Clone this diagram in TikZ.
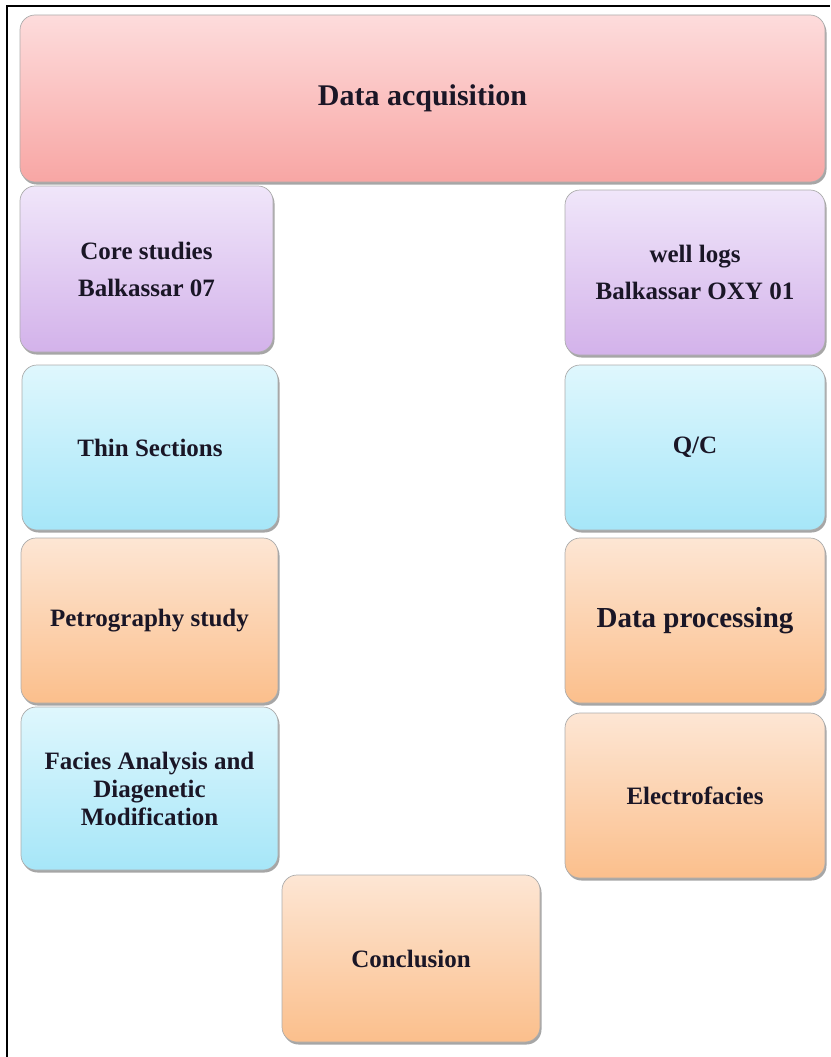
\documentclass[tikz,border=0pt]{standalone}
\usepackage{fontspec}
\setmainfont{Liberation Serif}
\newfontfamily\tmsbold{Liberation Serif Bold}
\usetikzlibrary{shadows}
\definecolor{pinkT}{HTML}{FDDCDC}
\definecolor{pinkB}{HTML}{F8A6A4}
\definecolor{purT}{HTML}{F0E6FA}
\definecolor{purB}{HTML}{D3B2EA}
\definecolor{cyaT}{HTML}{DFF7FD}
\definecolor{cyaB}{HTML}{A6E6F8}
\definecolor{oraT}{HTML}{FDE6D4}
\definecolor{oraB}{HTML}{FBBF8C}
\definecolor{txt}{HTML}{1A1626}
\tikzset{
  card/.style={draw=gray!65, line width=0.7pt, rounded corners=15pt,
    inner sep=0pt, outer sep=0pt, align=center, text=txt,
    font=\tmsbold\fontsize{25}{37}\selectfont,
    drop shadow={shadow xshift=1.5pt, shadow yshift=-2.5pt, opacity=0.35, fill=black}},
  pinkcard/.style={card, top color=pinkT, bottom color=pinkB},
  purcard/.style={card, top color=purT, bottom color=purB},
  cyacard/.style={card, top color=cyaT, bottom color=cyaB},
  oracard/.style={card, top color=oraT, bottom color=oraB},
  frame/.style={line width=2pt, draw=black}
}
\begin{document}
\begin{tikzpicture}[x=1pt,y=-1pt]
\useasboundingbox (0,0) rectangle (830,1057);
\coordinate (fa) at (7,1057);
\coordinate (fb) at (7,6);
\coordinate (fc) at (830,6);
\draw[frame] (fa) -- (fb) -- (fc);

\node[pinkcard, minimum width=805pt, minimum height=167pt, font=\tmsbold\fontsize{30}{34}\selectfont] (acq) at (422.5,98.5) {Data acquisition};

\node[purcard, minimum width=253pt, minimum height=166pt] (core) at (146.5,269) {Core studies\\Balkassar 07};
\node[cyacard, minimum width=256pt, minimum height=165pt] (thin) at (150,447.5) {Thin Sections};
\node[oracard, minimum width=257pt, minimum height=165pt] (petro) at (149.5,620.5) {\raisebox{-7pt}{Petrography study}};
\node[cyacard, minimum width=257pt, minimum height=163pt, font=\tmsbold\fontsize{25}{28}\selectfont] (facies) at (149.5,788.5) {Facies Analysis and\\Diagenetic\\Modification};

\node[purcard, minimum width=260pt, minimum height=165pt] (well) at (695,272.5) {well logs\\Balkassar OXY 01};
\node[cyacard, minimum width=260pt, minimum height=165pt] (qc) at (695,447.5) {Q/C};
\node[oracard, minimum width=260pt, minimum height=165pt, font=\tmsbold\fontsize{29}{34}\selectfont] (proc) at (695,620.5) {\raisebox{-7pt}{Data processing}};
\node[oracard, minimum width=260pt, minimum height=165pt] (electro) at (695,795.5) {Electrofacies};

\node[oracard, minimum width=258pt, minimum height=167pt] (concl) at (411,958.5) {Conclusion};
\end{tikzpicture}
\end{document}
